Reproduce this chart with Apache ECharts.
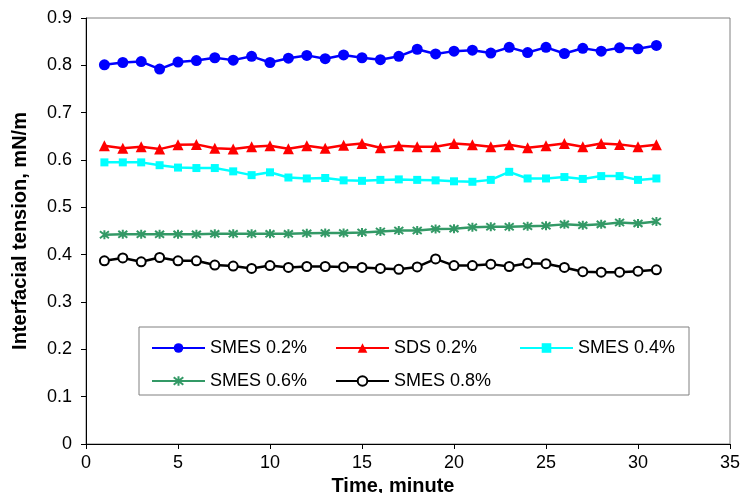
<!DOCTYPE html>
<html>
<head>
<meta charset="utf-8">
<script src="https://cdn.jsdelivr.net/npm/echarts@6/dist/echarts.min.js"></script>
<style>html,body{margin:0;padding:0;background:#fff}#c{width:741px;height:493px}</style>
</head>
<body>
<div id="c"></div>
<script>
const times = [1,2,3,4,5,6,7,8,9,10,11,12,13,14,15,16,17,18,19,20,21,22,23,24,25,26,27,28,29,30,31];
const smes02 = [0.801,0.806,0.808,0.792,0.807,0.810,0.816,0.811,0.819,0.806,0.815,0.821,0.814,0.822,0.816,0.812,0.819,0.834,0.824,0.830,0.832,0.826,0.838,0.827,0.838,0.825,0.836,0.830,0.837,0.835,0.842];
const sds02 = [0.630,0.625,0.628,0.623,0.632,0.633,0.625,0.623,0.628,0.630,0.624,0.630,0.625,0.631,0.635,0.626,0.630,0.628,0.628,0.635,0.632,0.628,0.632,0.626,0.630,0.635,0.628,0.635,0.633,0.628,0.632];
const smes04 = [0.595,0.595,0.595,0.589,0.584,0.583,0.583,0.576,0.568,0.574,0.563,0.561,0.562,0.557,0.556,0.558,0.559,0.558,0.557,0.555,0.554,0.558,0.575,0.561,0.561,0.564,0.560,0.566,0.566,0.558,0.561];
const smes06 = [0.442,0.443,0.443,0.443,0.443,0.443,0.444,0.444,0.444,0.444,0.444,0.445,0.446,0.446,0.447,0.449,0.451,0.451,0.454,0.455,0.458,0.459,0.459,0.460,0.461,0.464,0.462,0.464,0.468,0.466,0.470];
const smes08 = [0.387,0.393,0.385,0.394,0.387,0.387,0.378,0.376,0.371,0.377,0.373,0.375,0.375,0.374,0.373,0.371,0.369,0.374,0.391,0.377,0.377,0.380,0.375,0.382,0.381,0.373,0.364,0.363,0.363,0.365,0.368];
const seriesNames = ['SMES 0.2%','SDS 0.2%','SMES 0.4%','SMES 0.6%','SMES 0.8%'];
const xTicks = {min:0, max:35, interval:5};
const yTicks = {min:0, max:0.9, interval:0.1};

const pair = arr => times.map((t,i)=>[t,arr[i]]);
const FONT = 'Liberation Sans, Arial, sans-serif';
const star = 'path://M-1,-1 L1,1 M-1,1 L1,-1 M0,-1.3 L0,1.3';

const defs = [
  {data: smes02, color:'#0000FF', symbol:'circle', size:11},
  {data: sds02, color:'#FF0000', symbol:'triangle', size:11},
  {data: smes04, color:'#00FFFF', symbol:'rect', size:8},
  {data: smes06, color:'#339966', symbol:star, size:9, stroke:true},
  {data: smes08, color:'#000000', symbol:'emptyCircle', size:9, stroke:true}
];

const series = defs.map((d,i)=>({
  name: seriesNames[i],
  type:'line',
  data: pair(d.data),
  symbol: d.symbol,
  symbolSize: d.size,
  showAllSymbol: true,
  lineStyle:{color:d.color, width:2.5},
  itemStyle: d.stroke ? {color:d.color, borderColor:d.color, borderWidth:2} : {color:d.color},
  emphasis:{disabled:true},
  z: 3
}));

const legPos = [[151,339],[335,339],[519,339],[151,372],[335,372]];
const legends = seriesNames.map((n,i)=>({
  data:[n],
  left: legPos[i][0], top: legPos[i][1],
  padding:0, itemWidth:53, itemHeight:12, itemGap:0,
  textStyle:{fontFamily:FONT, fontSize:18, color:'#000'},
  z:6
}));

const chart = echarts.init(document.getElementById('c'), null, {renderer:'canvas'});
chart.setOption({
  animation:false,
  backgroundColor:'#fff',
  grid:{left:86, right:11, top:18, bottom:49, outerBoundsMode:'none', containLabel:false,
    show:true, borderColor:'#808080', borderWidth:1, backgroundColor:'transparent'},
  xAxis:{
    type:'value', min:xTicks.min, max:xTicks.max, interval:xTicks.interval,
    name:'Time, minute', nameLocation:'middle', nameGap:28,
    nameTextStyle:{fontFamily:FONT, fontSize:20, fontWeight:'bold', color:'#000', padding:[0,30,0,0]},
    axisLine:{lineStyle:{color:'#000', width:1}},
    axisTick:{inside:false, length:5, lineStyle:{color:'#000'}},
    axisLabel:{fontFamily:FONT, fontSize:18, color:'#000', margin:10},
    splitLine:{show:false}
  },
  yAxis:{
    type:'value', min:yTicks.min, max:yTicks.max, interval:yTicks.interval,
    name:'Interfacial tension, mN/m', nameLocation:'middle', nameGap:56,
    nameTextStyle:{fontFamily:FONT, fontSize:20, fontWeight:'bold', color:'#000'},
    axisLine:{show:true, lineStyle:{color:'#000', width:1}},
    axisTick:{show:true, inside:false, length:5, lineStyle:{color:'#000'}},
    axisLabel:{fontFamily:FONT, fontSize:18, color:'#000', margin:14,
      formatter: v => v===0 ? '0' : v.toFixed(1)},
    splitLine:{show:false}
  },
  legend: legends,
  graphic:[{type:'rect', shape:{x:139, y:327, width:550, height:68},
    style:{fill:'#fff', stroke:'#808080', lineWidth:1}, z:5, silent:true}],
  series: series
});
</script>
</body>
</html>
